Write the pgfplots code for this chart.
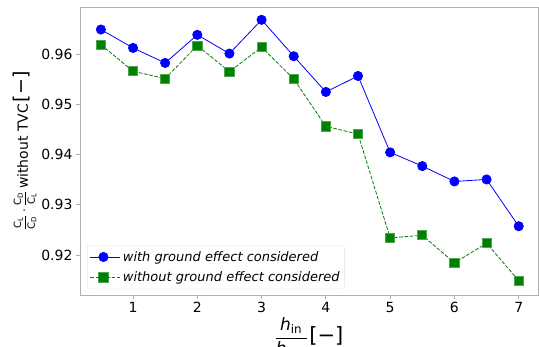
\documentclass[border=0pt]{standalone}
\usepackage{fontspec}
\setmainfont{DejaVu Sans}
\usepackage{amsmath}
\usepackage{pgfplots}
\pgfplotsset{compat=1.18}
\definecolor{mblue}{RGB}{0,0,255}
\definecolor{mgreen}{RGB}{0,128,0}
\definecolor{spine}{RGB}{176,176,176}
\pgfplotstableread{
x y
0.5 0.9650
1.0 0.96133
1.5 0.95833
2.0 0.96394
2.5 0.9602
3.0 0.96694
3.5 0.95967
4.0 0.95254
4.5 0.95573
5.0 0.94047
5.5 0.93773
6.0 0.93467
6.5 0.93507
7.0 0.92573
}\withge
\pgfplotstableread{
x y
0.5 0.9620
1.0 0.95667
1.5 0.9552
2.0 0.9618
2.5 0.9566
3.0 0.96147
3.5 0.95513
4.0 0.94567
4.5 0.94413
5.0 0.9234
5.5 0.92393
6.0 0.9184
6.5 0.92233
7.0 0.91487
}\withoutge
\newcommand{\smfrac}[2]{{\fontsize{10}{12}\selectfont$\dfrac{\text{#1}}{\text{#2}}$}}
\begin{document}
\begin{tikzpicture}
\begin{axis}[
  scale only axis, width=458pt, height=288pt,
  xmin=0.175, xmax=7.3, ymin=0.912, ymax=0.9695,
  xtick={1,2,3,4,5,6,7},
  ytick={0.92,0.93,0.94,0.95,0.96},
  scaled y ticks=false,
  yticklabel style={/pgf/number format/.cd, fixed, precision=2, fixed zerofill},
  /pgf/number format/assume math mode=true,
  tick label style={font=\fontsize{14}{16}\selectfont, black},
  axis line style={spine, line width=0.8pt},
  tick style={spine, line width=0.8pt},
  tick align=outside, major tick length=4pt,
  xtick pos=bottom, ytick pos=left,
  xlabel={{\fontsize{17}{20}\selectfont$\dfrac{\text{\itshape h}_{\text{in}}}{\text{\itshape h}_{\text{out}}}$}\,{\fontsize{21}{24}\selectfont[−]}},
  ylabel={{\fontsize{14}{16}\selectfont\smfrac{C$_{\text{L}}$}{C$_{\text{D}}$}\,$\cdot$\,\smfrac{C$_{\text{D}}$}{C$_{\text{L}}$}\,without TVC}\,{\fontsize{19}{22}\selectfont[−]}},
  xlabel style={yshift=2pt},
  ylabel style={yshift=-2pt},
  legend style={at={(0.015,0.02)}, anchor=south west, draw=black!12, rounded corners=3pt,
    font=\fontsize{13}{15}\selectfont\itshape, inner xsep=3pt, inner ysep=4pt,
    row sep=5pt},
  legend cell align=left,
  legend image code/.code={\draw[mark repeat=2,mark phase=2,#1] plot coordinates {(0pt,0pt) (13pt,0pt) (26pt,0pt)}; \path (0pt,0pt) -- (30pt,0pt);},
]
\addplot[mblue, line width=0.8pt, mark=*, mark size=4.6pt, mark options={solid, fill=mblue, draw=mblue}] table[x=x,y=y]{\withge};
\addlegendentry{with ground effect considered}
\addplot[mgreen, line width=0.8pt, dash pattern=on 3.7pt off 1.6pt, mark=square*, mark size=4.6pt, mark options={solid, fill=mgreen, draw=mgreen!70!white}] table[x=x,y=y]{\withoutge};
\addlegendentry{without ground effect considered}
\end{axis}
\pgfresetboundingbox
\useasboundingbox ([xshift=-80pt,yshift=-52pt]current axis.south west) rectangle ([xshift=1pt,yshift=7pt]current axis.north east);
\end{tikzpicture}
\end{document}
